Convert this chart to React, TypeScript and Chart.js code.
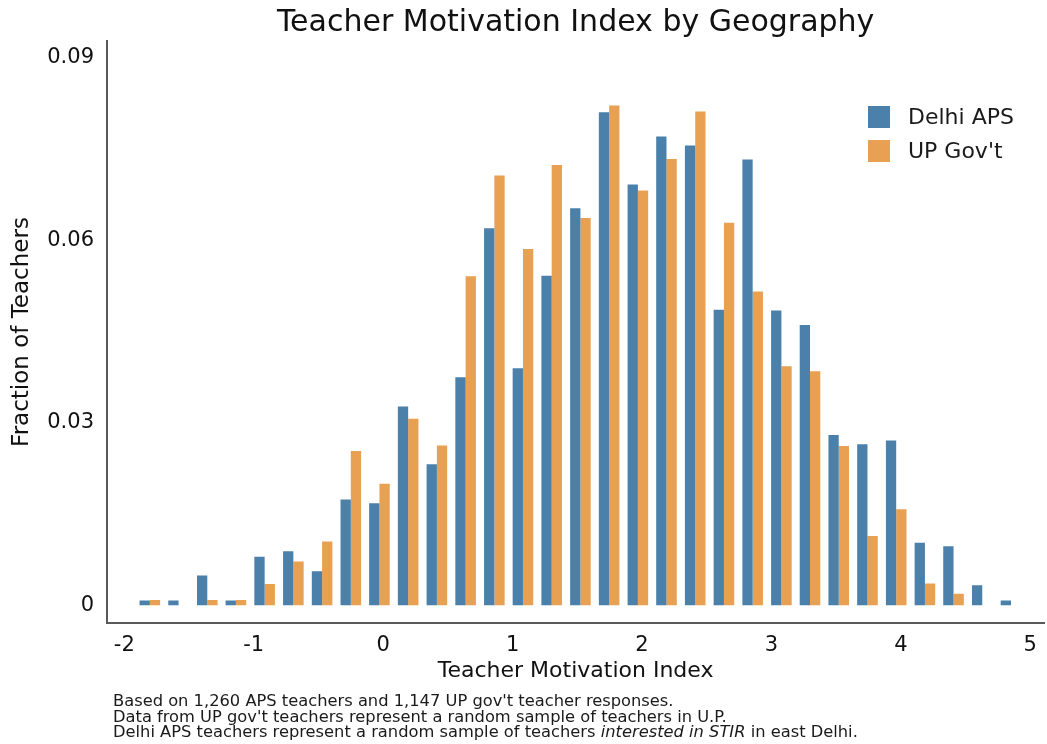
import React, { useEffect, useRef } from 'react';
import { Chart, registerables } from 'chart.js';

Chart.register(...registerables);

// ---------- data ----------
const binCenters = [
  -1.803, -1.581, -1.359, -1.138, -0.916, -0.694, -0.472, -0.25, -0.029, 0.193,
  0.415, 0.637, 0.859, 1.08, 1.302, 1.524, 1.746, 1.968, 2.189, 2.411,
  2.633, 2.855, 3.077, 3.298, 3.52, 3.742, 3.964, 4.186, 4.407, 4.629, 4.851,
];

const delhiAPS = [
  0.0008, 0.0008, 0.0049, 0.0008, 0.008, 0.0089, 0.0056, 0.0174, 0.0168, 0.0327,
  0.0232, 0.0375, 0.062, 0.039, 0.0542, 0.0653, 0.0811, 0.0692, 0.0771, 0.0756,
  0.0486, 0.0733, 0.0485, 0.0461, 0.028, 0.0265, 0.0271, 0.0103, 0.0097, 0.0033, 0.0008,
];

const upGovt = [
  0.0009, 0, 0.0009, 0.0009, 0.0035, 0.0072, 0.0105, 0.0254, 0.02, 0.0307,
  0.0263, 0.0541, 0.0707, 0.0586, 0.0724, 0.0637, 0.0822, 0.0682, 0.0734, 0.0812,
  0.0629, 0.0516, 0.0393, 0.0385, 0.0262, 0.0114, 0.0158, 0.0036, 0.0019, 0, 0,
];

const seriesLabels = ['Delhi APS', "UP Gov't"];
const seriesColors = ['#4A80AA', '#E8A152'];

const chartTitle = 'Teacher Motivation Index by Geography';
const xAxisTitle = 'Teacher Motivation Index';
const yAxisTitle = 'Fraction of Teachers';

const footnoteLines: Array<Array<{ text: string; italic?: boolean }>> = [
  [{ text: "Based on 1,260 APS teachers and 1,147 UP gov't teacher responses." }],
  [{ text: "Data from UP gov't teachers represent a random sample of teachers in U.P." }],
  [
    { text: 'Delhi APS teachers represent a random sample of teachers ' },
    { text: 'interested in STIR', italic: true },
    { text: ' in east Delhi.' },
  ],
];

const FONT = '"DejaVu Sans", "Open Sans", sans-serif';

const overlayPlugin = {
  id: 'overlay',
  afterDraw(chart: any) {
    const ctx = chart.ctx as CanvasRenderingContext2D;
    ctx.save();
    // legend inside plot
    chart.data.datasets.forEach((ds: any, i: number) => {
      const y = 106 + i * 34;
      ctx.fillStyle = ds.backgroundColor;
      ctx.fillRect(868, y, 22, 22);
      ctx.fillStyle = '#1a1a1a';
      ctx.font = `22px ${FONT}`;
      ctx.textBaseline = 'middle';
      ctx.textAlign = 'left';
      ctx.fillText(ds.label, 908, y + 12);
    });
    // footnote
    ctx.fillStyle = '#1a1a1a';
    ctx.textBaseline = 'middle';
    ctx.textAlign = 'left';
    footnoteLines.forEach((segs, li) => {
      let x = 113;
      const y = 702 + li * 15.6;
      segs.forEach((s) => {
        ctx.font = `${s.italic ? 'italic ' : ''}16.3px ${FONT}`;
        ctx.fillText(s.text, x, y);
        x += ctx.measureText(s.text).width;
      });
    });
    ctx.restore();
  },
};

export default function App() {
  const canvasRef = useRef<HTMLCanvasElement | null>(null);

  useEffect(() => {
    if (!canvasRef.current) return;
    const chart = new Chart(canvasRef.current, {
      type: 'bar',
      data: {
        datasets: [
          {
            label: seriesLabels[0],
            data: binCenters.map((x, i) => ({ x, y: delhiAPS[i] })),
            backgroundColor: seriesColors[0],
            borderWidth: 0,
          },
          {
            label: seriesLabels[1],
            data: binCenters.map((x, i) => ({ x, y: upGovt[i] })),
            backgroundColor: seriesColors[1],
            borderWidth: 0,
          },
        ],
      },
      options: {
        responsive: false,
        animation: false,
        datasets: {
          bar: {
            categoryPercentage: 0.72,
            barPercentage: 1,
          },
        },
        layout: { padding: { left: 0, right: 0, top: 0, bottom: 56 } },
        plugins: {
          legend: { display: false },
          tooltip: { enabled: false },
          title: {
            display: true,
            text: chartTitle,
            fullSize: false,
            color: '#111',
            font: { family: FONT, size: 30, weight: 'normal' },
            padding: { top: 5, bottom: 0 },
          },
        },
        scales: {
          x: {
            type: 'linear',
            offset: false,
            min: -2.134,
            max: 5.108,
            grid: { display: false, drawTicks: false },
            border: { display: true, color: '#5a5a5a', width: 2 },
            ticks: {
              stepSize: 1,
              includeBounds: false,
              padding: 10,
              color: '#111',
              font: { family: FONT, size: 21 },
              callback: (v: any) => String(v),
            },
            title: {
              display: true,
              text: xAxisTitle,
              color: '#111',
              font: { family: FONT, size: 22 },
              padding: { top: 0, bottom: 4 },
            },
            afterFit: (s: any) => {
              s.height = 65;
            },
          },
          y: {
            type: 'linear',
            min: -0.0029,
            max: 0.0928,
            grid: { display: false, drawTicks: false },
            border: { display: true, color: '#5a5a5a', width: 2 },
            ticks: {
              stepSize: 0.03,
              includeBounds: false,
              padding: 13,
              color: '#111',
              font: { family: FONT, size: 21 },
              callback: (v: any) => (Math.abs(v) < 1e-9 ? '0' : Number(v).toFixed(2)),
            },
            title: {
              display: true,
              text: yAxisTitle,
              color: '#111',
              font: { family: FONT, size: 23 },
              padding: { top: 8, bottom: 0 },
            },
            afterFit: (s: any) => {
              s.width = 107;
            },
          },
        },
      },
      plugins: [overlayPlugin],
    } as any);
    return () => chart.destroy();
  }, []);

  return (
    <div style={{ position: 'absolute', left: 0, top: 0, width: 1047, height: 744, background: '#fff' }}>
      <canvas ref={canvasRef} width={1047} height={744} style={{ display: 'block' }} />
    </div>
  );
}
